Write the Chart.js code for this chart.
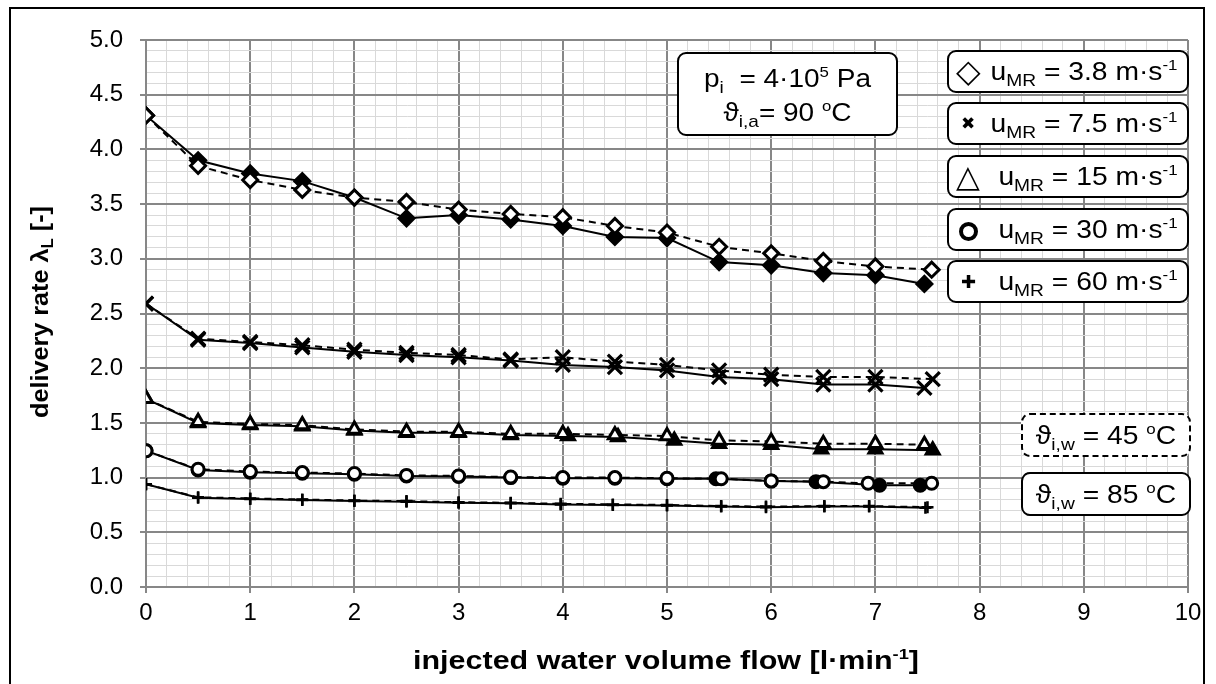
<!DOCTYPE html>
<html><head><meta charset="utf-8">
<script src="https://cdn.jsdelivr.net/npm/chart.js@4.4.1/dist/chart.umd.min.js"></script>
<style>
html,body{margin:0;padding:0;background:#fff;}
#wrap{position:relative;width:1216px;height:684px;overflow:hidden;font-family:"Liberation Sans",Arial,sans-serif;color:#000;}
#c{position:absolute;left:0;top:0;}
.frame{position:absolute;left:9px;top:7px;width:1196px;height:720px;border:2px solid #000;box-sizing:border-box;pointer-events:none;}
.box{position:absolute;background:#fff;border:2px solid #000;border-radius:9px;box-sizing:border-box;font-size:25px;white-space:nowrap;}
.box sub{font-size:17px;vertical-align:-6px;line-height:0;}
.box sup{font-size:15px;vertical-align:10px;line-height:0;}
.leg{left:947px;width:242px;height:43px;}
.leg .mk{position:absolute;left:7px;top:0;height:39px;line-height:39px;font-family:"DejaVu Sans",sans-serif;}
.leg .t{position:absolute;right:9px;top:0;height:39px;line-height:39px;transform:scaleX(1.13);transform-origin:right center;}
.ring{display:inline-block;width:11px;height:11px;border:4px solid #000;border-radius:50%;vertical-align:middle;}
.ann{left:677px;top:52px;width:221px;height:84px;text-align:center;}
.ann .l{position:absolute;left:0;right:0;height:30px;line-height:30px;transform:scaleX(1.12);}
.tb{left:1021px;width:170px;height:44px;}
.tb .t{position:absolute;left:0;right:0;text-align:center;top:0;height:40px;line-height:40px;transform:scaleX(1.13);}
.ytitle{position:absolute;left:40px;top:312px;transform:translate(-50%,-50%) rotate(-90deg) scaleX(1.05);font-weight:bold;font-size:24px;white-space:nowrap;}
.xtitle{position:absolute;left:666px;top:660px;transform:translate(-50%,-50%) scaleX(1.22);font-weight:bold;font-size:25px;white-space:nowrap;}
.ytitle sub,.xtitle sub{font-size:16px;vertical-align:-5px;line-height:0;}
.xtitle sup{font-size:15px;vertical-align:10px;line-height:0;}
</style></head>
<body>
<div id="wrap">
<canvas id="c" width="1216" height="684"></canvas>
<div class="frame"></div>
<div class="ytitle">delivery rate λ<sub>L</sub> [-]</div>
<div class="xtitle">injected water volume flow [l·min<sup>-1</sup>]</div>
<div class="box ann">
  <div class="l" style="top:9px">p<sub>i</sub>&nbsp;&nbsp;= 4·10<sup>5</sup> Pa</div>
  <div class="l" style="top:43px">ϑ<sub>i,a</sub>= 90 <sup>o</sup>C</div>
</div>
<div class="box leg" style="top:50px"><span class="mk" style="font-size:32px">◇</span><span class="t">u<sub>MR</sub> = 3.8 m·s<sup>-1</sup></span></div>
<div class="box leg" style="top:102px"><span class="mk" style="font-size:17px;left:12px">✖</span><span class="t">u<sub>MR</sub> = 7.5 m·s<sup>-1</sup></span></div>
<div class="box leg" style="top:155px"><span class="mk" style="font-size:31px">△</span><span class="t">u<sub>MR</sub> = 15 m·s<sup>-1</sup></span></div>
<div class="box leg" style="top:208px"><span class="mk" style="left:10px"><span class="ring"></span></span><span class="t">u<sub>MR</sub> = 30 m·s<sup>-1</sup></span></div>
<div class="box leg" style="top:260px"><span class="mk" style="font-size:18px;left:12px">✚</span><span class="t">u<sub>MR</sub> = 60 m·s<sup>-1</sup></span></div>
<div class="box tb" style="top:413px;border-style:dashed"><div class="t">ϑ<sub>i,w</sub> = 45 <sup>o</sup>C</div></div>
<div class="box tb" style="top:472px"><div class="t">ϑ<sub>i,w</sub> = 85 <sup>o</sup>C</div></div>
</div>
<script>
// ---- data ----
const xDia45 = [0,0.5,1,1.5,2,2.5,3,3.5,4,4.5,5,5.5,6,6.5,7,7.54];
const yDia45 = [4.31,3.85,3.72,3.63,3.56,3.52,3.45,3.41,3.38,3.30,3.24,3.11,3.05,2.98,2.93,2.90];
const xDia85 = [0,0.5,1,1.5,2,2.5,3,3.5,4,4.5,5,5.5,6,6.5,7,7.47];
const yDia85 = [4.31,3.90,3.78,3.71,3.56,3.37,3.40,3.36,3.30,3.20,3.19,2.97,2.94,2.87,2.85,2.77];

const xCr45 = [0,0.5,1,1.5,2,2.5,3,3.5,4,4.5,5,5.5,6,6.5,7,7.55];
const yCr45 = [2.59,2.27,2.24,2.21,2.17,2.14,2.12,2.08,2.10,2.06,2.03,1.98,1.94,1.92,1.92,1.90];
const xCr85 = [0,0.5,1,1.5,2,2.5,3,3.5,4,4.5,5,5.5,6,6.5,7,7.47];
const yCr85 = [2.59,2.26,2.23,2.19,2.15,2.12,2.10,2.07,2.03,2.01,1.98,1.92,1.90,1.85,1.85,1.82];

const xTri45 = [0,0.5,1,1.5,2,2.5,3,3.5,4,4.5,5,5.5,6,6.5,7,7.47];
const yTri45 = [1.72,1.51,1.49,1.48,1.44,1.42,1.42,1.40,1.40,1.39,1.38,1.34,1.33,1.31,1.31,1.30];
const xTri85 = [0,0.5,1,1.5,2,2.5,3,3.5,4.05,4.53,5.07,5.5,6,6.48,7,7.55];
const yTri85 = [1.72,1.50,1.48,1.47,1.43,1.41,1.41,1.39,1.38,1.37,1.34,1.31,1.30,1.26,1.26,1.25];

const xCir45 = [0,0.5,1,1.5,2,2.5,3,3.5,4,4.5,5,5.52,6,6.5,6.93,7.54];
const yCir45 = [1.245,1.076,1.055,1.046,1.037,1.02,1.015,1.005,1.0,1.0,0.994,0.99,0.97,0.963,0.948,0.948];
const xCir85 = [0,0.5,1,1.5,2,2.5,3,3.5,4,4.5,5,5.47,6,6.43,7.04,7.43];
const yCir85 = [1.245,1.07,1.05,1.04,1.03,1.015,1.01,1.0,0.995,0.995,0.99,0.99,0.968,0.963,0.93,0.93];

const xPl45 = [0,0.5,1,1.5,2,2.5,3,3.5,3.98,4.48,5,5.52,5.95,6.51,6.94,7.5];
const yPl45 = [0.94,0.82,0.81,0.80,0.79,0.785,0.775,0.77,0.76,0.755,0.75,0.74,0.735,0.74,0.74,0.73];
const xPl85 = [0,0.5,1,1.5,2,2.5,3,3.5,3.98,4.48,5,5.52,5.95,6.51,6.94,7.48];
const yPl85 = [0.94,0.815,0.805,0.795,0.785,0.78,0.77,0.765,0.755,0.75,0.745,0.735,0.73,0.735,0.735,0.725];

const xTickLabels = ['0','1','2','3','4','5','6','7','8','9','10'];
const yTickLabels = ['0.0','0.5','1.0','1.5','2.0','2.5','3.0','3.5','4.0','4.5','5.0'];

// ---- build ----
const pts = (xs, ys) => xs.map((x, i) => ({x: x, y: ys[i]}));
function ds(xs, ys, style, radius, bw, filled, dashed) {
  return {
    data: pts(xs, ys),
    borderColor: '#000',
    borderWidth: 2,
    borderDash: dashed ? [7, 5] : [],
    pointStyle: style,
    pointRadius: radius,
    pointBorderWidth: bw,
    pointBorderColor: '#000',
    pointBackgroundColor: filled ? '#000' : '#fff',
    order: dashed ? 0 : 1,
    tension: 0,
    fill: false
  };
}
const datasets = [
  ds(xDia45, yDia45, 'rectRot', 7.5, 3, false, true),
  ds(xDia85, yDia85, 'rectRot', 7.5, 3, true, false),
  ds(xCr45, yCr45, 'crossRot', 10, 3.2, false, true),
  ds(xCr85, yCr85, 'crossRot', 10, 3.2, true, false),
  ds(xTri45, yTri45, 'triangle', 7.5, 3, false, true),
  ds(xTri85, yTri85, 'triangle', 7.5, 3, true, false),
  ds(xCir45, yCir45, 'circle', 6, 3, false, true),
  ds(xCir85, yCir85, 'circle', 6, 3, true, false),
  ds(xPl45, yPl45, 'cross', 6, 2.5, false, true),
  ds(xPl85, yPl85, 'cross', 6, 2.5, true, false)
];

const MAJ = '#878787', MIN = '#d9d9d9';
const isMajX = v => Math.abs(v * 5 - Math.round(v * 5)) < 1e-6 && Math.round(v * 5) % 5 === 0;
const isMajY = v => Math.round(v * 10) % 5 === 0;

new Chart(document.getElementById('c'), {
  type: 'line',
  data: { datasets: datasets },
  options: {
    responsive: false,
    animation: false,
    layout: { padding: { left: 0, right: 28, top: 40, bottom: 0 } },
    plugins: { legend: { display: false }, tooltip: { enabled: false } },
    scales: {
      x: {
        type: 'linear', min: 0, max: 10,
        afterBuildTicks: s => { const t = []; for (let i = 0; i <= 50; i++) t.push({ value: i / 5 }); s.ticks = t; },
        afterFit: s => { s.height = 97; },
        ticks: {
          autoSkip: false, maxRotation: 0, minRotation: 0, padding: 6, color: '#000',
          font: { family: 'Liberation Sans', size: 24 },
          callback: v => isMajX(v) ? xTickLabels[Math.round(v)] : ''
        },
        grid: {
          color: c => isMajX(c.tick.value) ? MAJ : MIN,
          lineWidth: c => isMajX(c.tick.value) ? 2 : 1,
          tickColor: c => isMajX(c.tick.value) ? MAJ : 'rgba(0,0,0,0)',
          tickLength: 6
        },
        border: { display: true, color: MAJ, width: 2 }
      },
      y: {
        type: 'linear', min: 0, max: 5,
        afterBuildTicks: s => { const t = []; for (let i = 0; i <= 50; i++) t.push({ value: i / 10 }); s.ticks = t; },
        afterFit: s => { s.width = 146; },
        ticks: {
          autoSkip: false, padding: 17, color: '#000',
          font: { family: 'Liberation Sans', size: 24 },
          callback: v => isMajY(v) ? yTickLabels[Math.round(v * 2)] : ''
        },
        grid: {
          color: c => isMajY(c.tick.value) ? MAJ : MIN,
          lineWidth: c => isMajY(c.tick.value) ? 2 : 1,
          tickColor: c => isMajY(c.tick.value) ? MAJ : 'rgba(0,0,0,0)',
          tickLength: 6
        },
        border: { display: true, color: MAJ, width: 2 }
      }
    }
  }
});
</script>
</body></html>
